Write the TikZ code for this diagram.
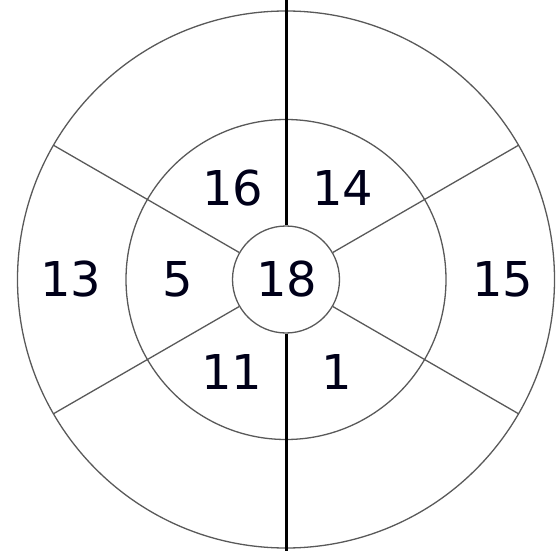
\documentclass[tikz,border=0pt]{standalone}
\usepackage{fontspec}
\setmainfont{DejaVu Sans}
\usetikzlibrary{positioning,calc}
\tikzset{
  ringline/.style={draw=black!65, line width=1.3pt},
  spokeline/.style={draw=black!65, line width=1.3pt},
  axisline/.style={draw=black, line width=3pt},
  hubnode/.style={circle, ringline, minimum size=107pt, inner sep=0pt},
  numlabel/.style={font=\fontsize{48}{48}\selectfont, text=black!90!blue, inner sep=0pt},
}
\begin{document}
\begin{tikzpicture}[x=1pt, y=1pt]
  \useasboundingbox (-286,-271.5) rectangle (270,279.5);

  \node[hubnode] (hub) at (0,0) {};
  \draw[ringline] (0,0) circle (160);
  \draw[ringline] (0,0) circle (268.5);

  \coordinate (top) at (0,279.5);
  \coordinate (bottom) at (0,-271.5);
  \draw[axisline] (top) -- (hub.north);
  \draw[axisline] (hub.south) -- (bottom);

  \foreach \a in {30,150,210,330}
    \draw[spokeline] (hub.\a) -- (\a:268.5);

  \node[numlabel] (n18) at (1,0) {18};
  \node[numlabel] (n16) at (-53,91.5) {16};
  \node[numlabel] (n14) at (57,91.5) {14};
  \node[numlabel] (n5) at (-108.5,0) {5};
  \node[numlabel] (n13) at (-215,0) {13};
  \node[numlabel] (n15) at (217,0) {15};
  \node[numlabel] (n11) at (-54,-92.5) {11};
  \node[numlabel] (n1) at (51,-92.5) {1};
\end{tikzpicture}
\end{document}
